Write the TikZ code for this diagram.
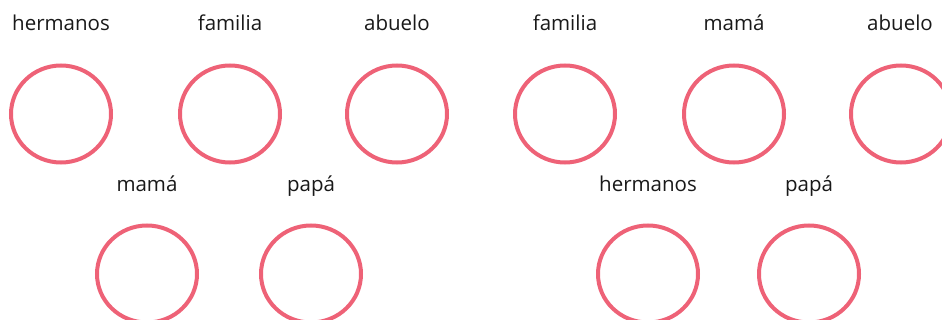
\documentclass[tikz,border=0pt]{standalone}
\usepackage{fontspec}
\setmainfont{Open Sans}
\usepackage{xcolor}
\usetikzlibrary{shapes.geometric,positioning}
\definecolor{ringpink}{HTML}{EE6277}
\tikzset{ring/.style={draw=ringpink,line width=4pt,ellipse,inner sep=0pt,minimum width=100pt,minimum height=97pt},
         word/.style={anchor=base,font=\fontsize{20.5}{24}\selectfont,text=black!90}}

\begin{document}
\begin{tikzpicture}[x=1pt,y=1pt]
      \clip (0,-320) rectangle (942,0);
      \useasboundingbox (0,-320) rectangle (942,0);

      % first group
      \node[word] at (61,-31) (hermanosA) {hermanos};
      \node[word] at (230,-31) (familiaA) {familia};
      \node[word] at (397,-31) (abueloA) {abuelo};
      \node[word] at (147,-192) (mamaA) {mamá};
      \node[word] at (311,-192) (papaA) {papá};

      \node[ring] at (61,-114) (ringA1) {};
      \node[ring] at (230,-114) (ringA2) {};
      \node[ring] at (397,-114) (ringA3) {};
      \node[ring] at (147,-274) (ringA4) {};
      \node[ring] at (311,-274) (ringA5) {};

      % second group
      \node[word] at (565,-31) (familiaB) {familia};
      \node[word] at (734,-31) (mamaB) {mamá};
      \node[word] at (900,-31) (abueloB) {abuelo};
      \node[word] at (648,-192) (hermanosB) {hermanos};
      \node[word] at (809,-192) (papaB) {papá};

      \node[ring] at (565,-114) (ringB1) {};
      \node[ring] at (734,-114) (ringB2) {};
      \node[ring] at (901,-114) (ringB3) {};
      \node[ring] at (648,-274) (ringB4) {};
      \node[ring] at (809,-274) (ringB5) {};
    \end{tikzpicture}
\end{document}
